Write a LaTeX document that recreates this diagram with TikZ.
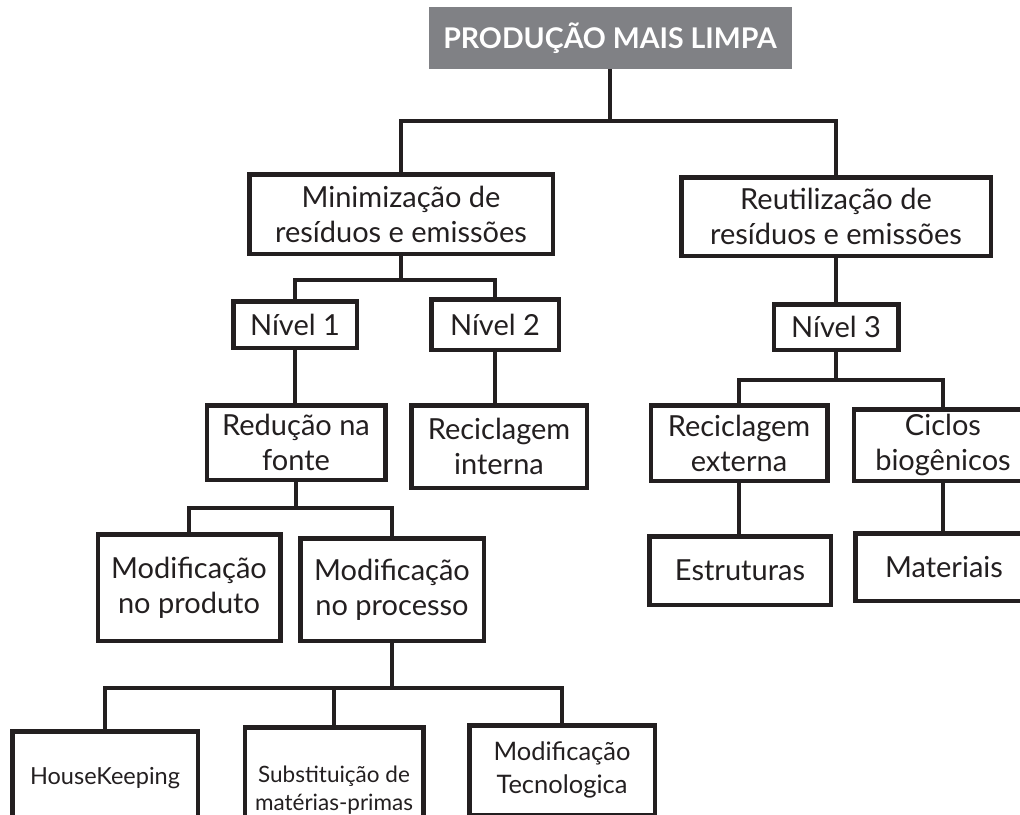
\documentclass[tikz,border=0pt]{standalone}
\usepackage{fontspec}
\setmainfont{Lato}
\definecolor{titlegray}{RGB}{128,129,133}
\definecolor{ink}{RGB}{35,31,32}
\begin{document}
\begin{tikzpicture}[x=1pt,y=-1pt,
    box/.style n args={2}{draw=ink,text=ink,line width=4.5pt,align=center,inner sep=0pt,
      minimum width=#1pt-4.5pt,minimum height=#2pt-4.5pt,font=\fontsize{29}{35}\selectfont},
    small/.style 2 args={font=\fontsize{#1}{#2}\selectfont},
    link/.style={draw=ink,line width=4.5pt}]
            \useasboundingbox (0,0) rectangle (1020,814);
            \clip (0,0) rectangle (1020,814);
            % boxes
            \node[fill=titlegray,text=white,minimum width=363pt,minimum height=62pt,
              font=\fontsize{28.5}{30}\selectfont\bfseries] (title) at (610,38) {PRODUÇÃO MAIS LIMPA};
            \node[box={308}{84}] (minim) at (401,214) {Minimização de\\resíduos e emissões};
            \node[box={314}{83}] (reutil) at (836,216.5) {Reutilização de\\resíduos e emissões};
            \node[box={128}{51}] (nivel1) at (295,324.5) {Nível 1};
            \node[box={132}{55}] (nivel2) at (495,324.5) {Nível 2};
            \node[box={129}{50}] (nivel3) at (836,327) {Nível 3};
            \node[box={183}{79}] (reducao) at (296,442.5) {Redução na\\fonte};
            \node[box={180}{87}] (recint) at (499,446.5) {Reciclagem\\interna};
            \node[box={181}{80}] (recext) at (739,443) {Reciclagem\\externa};
            \node[box={183}{76}] (ciclos) at (943,445) {Ciclos\\biogênicos};
            \node[box={186}{73}] (estrut) at (740,570.5) {Estruturas};
            \node[box={182}{72}] (mater) at (944,567) {Materiais};
            \node[box={187}{111}] (produto) at (189,587.5) {Modificação\\no produto};
            \node[box={188}{107}] (processo) at (392,589.5) {Modificação\\no processo};
            \node[box={190}{98},small={23.5}{28}] (housek) at (105,778) {HouseKeeping};
            \node[box={183}{130},small={22.5}{28}] (subst) at (334,790) {Substituição de\\matérias-primas};
            \node[box={190}{94},small={25.5}{33}] (tecno) at (562,770) {Modificação\\Tecnologica};
            % links
            \foreach \p/\y/\kids in {title/121/{minim,reutil},minim/280/{nivel1,nivel2},
              nivel3/380/{recext,ciclos},reducao/508/{produto,processo},processo/688/{housek,subst,tecno}} {
              \draw[link] (\p.south) -- (\p.south |- 0,\y);
              \foreach \k in \kids \draw[link] (\p.south |- 0,\y) -| (\k.north);
            }
            \foreach \a/\b in {reutil/nivel3,nivel1/reducao,nivel2/recint,recext/estrut,ciclos/mater}
              \draw[link] (\a.south) -- (\a.south |- \b.north);
\end{tikzpicture}
\end{document}
